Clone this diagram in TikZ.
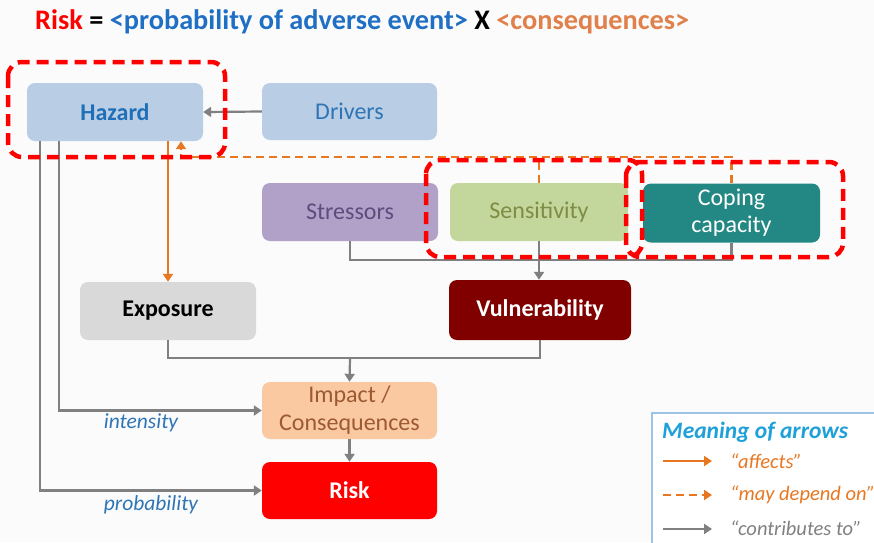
\documentclass[tikz,border=0pt]{standalone}
\usepackage{fontspec}
\setmainfont{Carlito}
\usetikzlibrary{arrows.meta}
\definecolor{hazfill}{HTML}{B9CDE5}
\definecolor{hazblue}{HTML}{1F6FB8}
\definecolor{drvblue}{HTML}{2E75B6}
\definecolor{strfill}{HTML}{B1A0C7}
\definecolor{strtext}{HTML}{5F4B7E}
\definecolor{senfill}{HTML}{C3D69B}
\definecolor{sentext}{HTML}{7F8C45}
\definecolor{copfill}{HTML}{238883}
\definecolor{expfill}{HTML}{D9D9D9}
\definecolor{vulfill}{HTML}{800000}
\definecolor{impfill}{HTML}{FAC9A1}
\definecolor{imptext}{HTML}{9D5A32}
\definecolor{riskred}{HTML}{FF0000}
\definecolor{arrgray}{HTML}{808080}
\definecolor{arrorange}{HTML}{E87722}
\definecolor{titleblue}{HTML}{1F6FC5}
\definecolor{titleorange}{HTML}{E0804A}
\definecolor{legblue}{HTML}{1EA0D8}
\definecolor{legborder}{HTML}{9DC3E6}
\definecolor{labblue}{HTML}{2E75B6}
\definecolor{bg}{HTML}{FBFBFB}
\begin{document}
\begin{tikzpicture}[x=1pt,y=-1pt,
  box/.style={rounded corners=8pt, inner sep=0pt, align=center,
    font=\fontsize{24}{27}\selectfont},
  boldbox/.style={box, font=\fontsize{24}{27}\selectfont\bfseries},
  tip/.style={-{Triangle[length=8pt,width=10pt]}},
  contrib/.style={draw=arrgray, line width=2.2pt, tip, color=arrgray},
  contribline/.style={draw=arrgray, line width=2.2pt},
  affects/.style={draw=arrorange, line width=2.2pt, tip, color=arrorange},
  depends/.style={draw=arrorange, line width=2.2pt, dash pattern=on 8pt off 5pt, tip, color=arrorange},
  dependsline/.style={draw=arrorange, line width=2.2pt, dash pattern=on 8pt off 5pt},
  focus/.style={draw=riskred, line width=4.5pt, dash pattern=on 12pt off 7pt, rounded corners=14pt},
  lab/.style={font=\fontsize{21.5}{24}\selectfont\itshape, text=labblue, inner sep=0pt},
  legitem/.style={font=\fontsize{20.5}{23}\selectfont\itshape, inner sep=0pt, anchor=west}
]
\useasboundingbox (0,0) rectangle (874,542);
\fill[bg] (0,0) rectangle (874,542);

% title
\node[anchor=west, inner sep=0pt, font=\fontsize{28.3}{30}\selectfont\bfseries] (title) at (35,22)
 {\textcolor{riskred}{Risk} = \textcolor{titleblue}{<probability of adverse event>} X \textcolor{titleorange}{<consequences>}};

% boxes
\node[boldbox, fill=hazfill, text=hazblue, minimum width=176pt, minimum height=58pt] (hazard) at (115,112) {Hazard};
\node[box, fill=hazfill, text=drvblue, minimum width=175pt, minimum height=57pt] (drivers) at (349.5,111.5) {Drivers};
\node[box, fill=strfill, text=strtext, minimum width=176pt, minimum height=58pt] (stressors) at (350,212) {Stressors};
\node[box, fill=senfill, text=sentext, minimum width=178pt, minimum height=58pt] (sensitivity) at (539,212) {Sensitivity};
\node[box, fill=copfill, text=white, minimum width=177pt, minimum height=59pt] (coping) at (731.5,213) {Coping\\capacity};
\node[boldbox, fill=expfill, text=black, minimum width=176pt, minimum height=58pt] (exposure) at (168,311) {Exposure};
\node[boldbox, fill=vulfill, text=white, minimum width=182pt, minimum height=60pt] (vulnerability) at (540,310) {Vulnerability};
\node[box, fill=impfill, text=imptext, minimum width=175pt, minimum height=57pt, font=\fontsize{24}{28}\selectfont] (impact) at (349.5,410.5) {Impact /\\Consequences};
\node[boldbox, fill=riskred, text=white, minimum width=175pt, minimum height=57pt] (risk) at (349.5,490.5) {Risk};

% connectors
\draw[contrib] (drivers.west) -- (hazard.east);
\draw[affects] (hazard.south -| exposure.north) -- (exposure.north);
\coordinate (dj) at (181,157);
\draw[depends] (coping.north) |- (dj) -- (hazard.south -| dj);
\draw[dependsline] (sensitivity.north) -- (sensitivity.north |- dj);
\coordinate (vj) at (539,260);
\draw[contribline] (stressors.south) |- (vj) -| (coping.south);
\draw[contrib] (sensitivity.south) -- (sensitivity.south |- vulnerability.north);
\coordinate (ej) at (350,358);
\draw[contribline] (exposure.south) |- (ej) -| (vulnerability.south);
\draw[contrib] (ej) -- (impact.north);
\draw[contrib] (impact.south) -- (risk.north);
\draw[contrib] ([xshift=13pt]hazard.south west) |- (risk.west);
\draw[contrib] ([xshift=32pt]hazard.south west) |- (impact.west);
\node[lab] (intensity) at (141,423) {intensity};
\node[lab] (probability) at (151,505) {probability};

% focus frames
\draw[focus] (8,62) rectangle (225,157);
\draw[focus] (426,160) rectangle (642,257);
\draw[focus] (626,162) rectangle (843,257);

% legend
\draw[fill=white, draw=legborder, line width=1.5pt] (652,413) rectangle (884,552);
\node[anchor=west, inner sep=0pt, text=legblue, font=\fontsize{23.5}{26}\selectfont\bfseries\itshape] (legtitle) at (662,432) {Meaning of arrows};
\coordinate (a1s) at (663,461); \coordinate (a1e) at (712,461);
\coordinate (a2s) at (663,495); \coordinate (a2e) at (712,495);
\coordinate (a3s) at (663,529); \coordinate (a3e) at (712,529);
\draw[affects] (a1s) -- (a1e);
\draw[depends] (a2s) -- (a2e);
\draw[contrib] (a3s) -- (a3e);
\node[legitem, text=arrorange] (l1) at (730,461) {“affects”};
\node[legitem, text=arrorange] (l2) at (730,495) {“may depend on”};
\node[legitem, text=arrgray] (l3) at (730,528) {“contributes to”};
\end{tikzpicture}
\end{document}
